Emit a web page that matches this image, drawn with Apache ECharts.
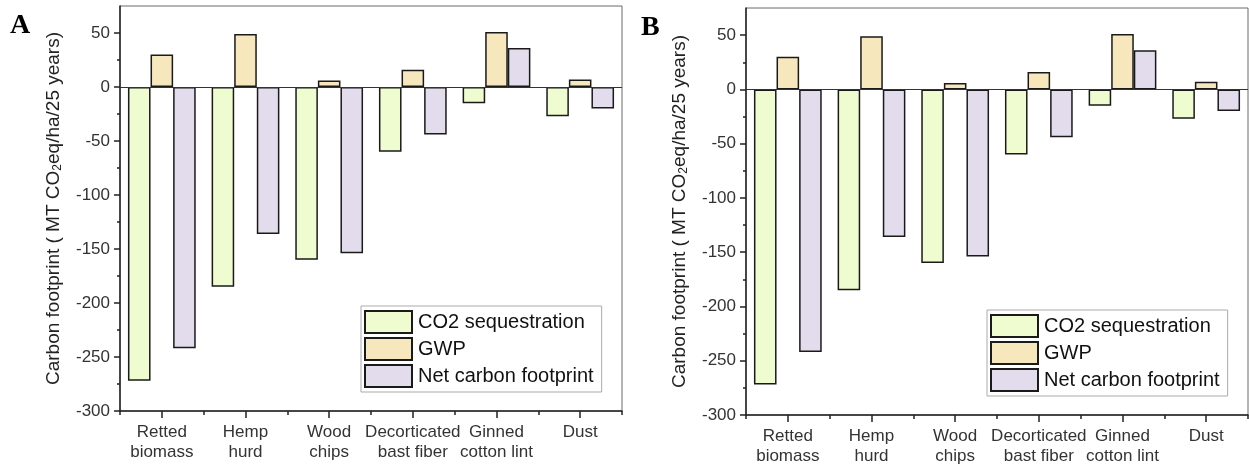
<!DOCTYPE html>
<html>
<head>
<meta charset="utf-8">
<script src="https://cdn.jsdelivr.net/npm/echarts@6/dist/echarts.min.js"></script>
<style>
  html, body { margin: 0; padding: 0; background: #fff; }
  #chart { width: 1249px; height: 468px; }
</style>
</head>
<body>
<div id="chart"></div>
<script>
// Product categories (two-line labels)
const categories = [
  'Retted\nbiomass', 'Hemp\nhurd', 'Wood\nchips',
  'Decorticated\nbast fiber', 'Ginned\ncotton lint', 'Dust'
];

// Values in MT CO2eq/ha/25 years
const co2Sequestration = [-272, -185, -160, -60, -15, -27];
const gwp              = [30, 49, 6, 16, 51, 7];
const netFootprint     = [-242, -136, -154, -44, 36, -20];

// Y axis ticks
const yMajorTicks = [-300, -250, -200, -150, -100, -50, 0, 50];
const yMinorTicks = [-275, -225, -175, -125, -75, -25, 25];

const seriesNames = ['CO2 sequestration', 'GWP', 'Net carbon footprint'];
const seriesData = [co2Sequestration, gwp, netFootprint];
const fills = ['#eefccf', '#f7e7bc', '#e2dcec'];

const FONT = 'Liberation Sans, Arial, sans-serif';

// Pixel layout of the two panels
const panels = [
  { left: 120, top: 6, width: 502, height: 405, letter: 'A', lx: 10, ly: 12, legendLeft: 361, legendTop: 306 },
  { left: 746, top: 8, width: 502, height: 407, letter: 'B', lx: 641, ly: 14, legendLeft: 987, legendTop: 310 }
];

const grid = [], xAxis = [], yAxis = [], series = [], legend = [], graphic = [];

panels.forEach((p, i) => {
  grid.push({
    left: p.left, top: p.top, width: p.width, height: p.height,
    show: true, borderColor: '#6a6a6a', borderWidth: 1, backgroundColor: 'transparent'
  });

  // category axis with ticks at the labels
  xAxis.push({
    type: 'category', gridIndex: i, data: categories, position: 'bottom',
    axisLine: { onZero: false, lineStyle: { color: '#222', width: 1.5 } },
    axisTick: { show: true, alignWithLabel: true, interval: 0, length: 7, lineStyle: { color: '#222', width: 1.5 } },
    axisLabel: { fontFamily: FONT, fontSize: 17, color: '#333', margin: 11, lineHeight: 20, interval: 0 },
    splitLine: { show: false }
  });
  // short ticks between categories
  xAxis.push({
    type: 'category', gridIndex: i, data: categories, position: 'bottom',
    axisLine: { show: false, onZero: false },
    axisTick: { show: true, interval: 0, length: 4, lineStyle: { color: '#222', width: 1.5 } },
    axisLabel: { show: false },
    splitLine: { show: false }
  });

  yAxis.push({
    type: 'value', gridIndex: i, min: -300, max: 75, interval: 25,
    name: '{a|Carbon footprint ( MT CO}{s|2}{a|eq/ha/25 years)}',
    nameLocation: 'middle', nameGap: 56, nameRotate: 90,
    nameTextStyle: {
      rich: {
        a: { fontFamily: FONT, fontSize: 19, color: '#222' },
        s: { fontFamily: FONT, fontSize: 12, color: '#222', padding: [9, 0, 0, 0] }
      }
    },
    axisLine: { show: true, lineStyle: { color: '#222', width: 1.5 } },
    axisTick: { show: true, length: 6, customValues: yMajorTicks, lineStyle: { color: '#222', width: 1.5 } },
    axisLabel: { fontFamily: FONT, fontSize: 17, color: '#333', margin: 10, customValues: yMajorTicks },
    splitLine: { show: false }
  });
  yAxis.push({
    type: 'value', gridIndex: i, min: -300, max: 75, interval: 25, position: 'left',
    axisLine: { show: false },
    axisTick: { show: true, length: 3, customValues: yMinorTicks, lineStyle: { color: '#222', width: 1.5 } },
    axisLabel: { show: false },
    splitLine: { show: false }
  });

  seriesNames.forEach((name, k) => {
    const s = {
      type: 'bar', name: name,
      xAxisIndex: i * 2, yAxisIndex: i * 2,
      data: seriesData[k],
      barGap: '0%', barCategoryGap: '19%',
      itemStyle: { color: fills[k], borderColor: '#1a1a1a', borderWidth: 1.5 },
      emphasis: { disabled: true }
    };
    if (k === 0) {
      s.markLine = {
        silent: true, symbol: ['none', 'none'], label: { show: false },
        lineStyle: { color: '#333', width: 1, type: 'solid' },
        data: [{ yAxis: 0 }]
      };
    }
    series.push(s);
  });

  legend.push({
    orient: 'vertical', left: p.legendLeft, top: p.legendTop,
    data: seriesNames,
    itemWidth: 47, itemHeight: 22, itemGap: 3,
    padding: [4, 8, 4, 3],
    borderColor: '#aaaaaa', borderWidth: 1, backgroundColor: '#fff',
    icon: 'rect',
    textStyle: { fontFamily: FONT, fontSize: 20, color: '#111', padding: [0, 0, 0, 1] },
    selectedMode: false
  });

  graphic.push({
    type: 'text', left: p.lx, top: p.ly,
    style: { text: p.letter, font: 'bold 28px "Liberation Serif", "Times New Roman", serif', fill: '#000' }
  });
});

const chart = echarts.init(document.getElementById('chart'), null, { renderer: 'canvas' });
chart.setOption({
  animation: false,
  backgroundColor: '#fff',
  grid, xAxis, yAxis, series, legend, graphic
});
</script>
</body>
</html>
